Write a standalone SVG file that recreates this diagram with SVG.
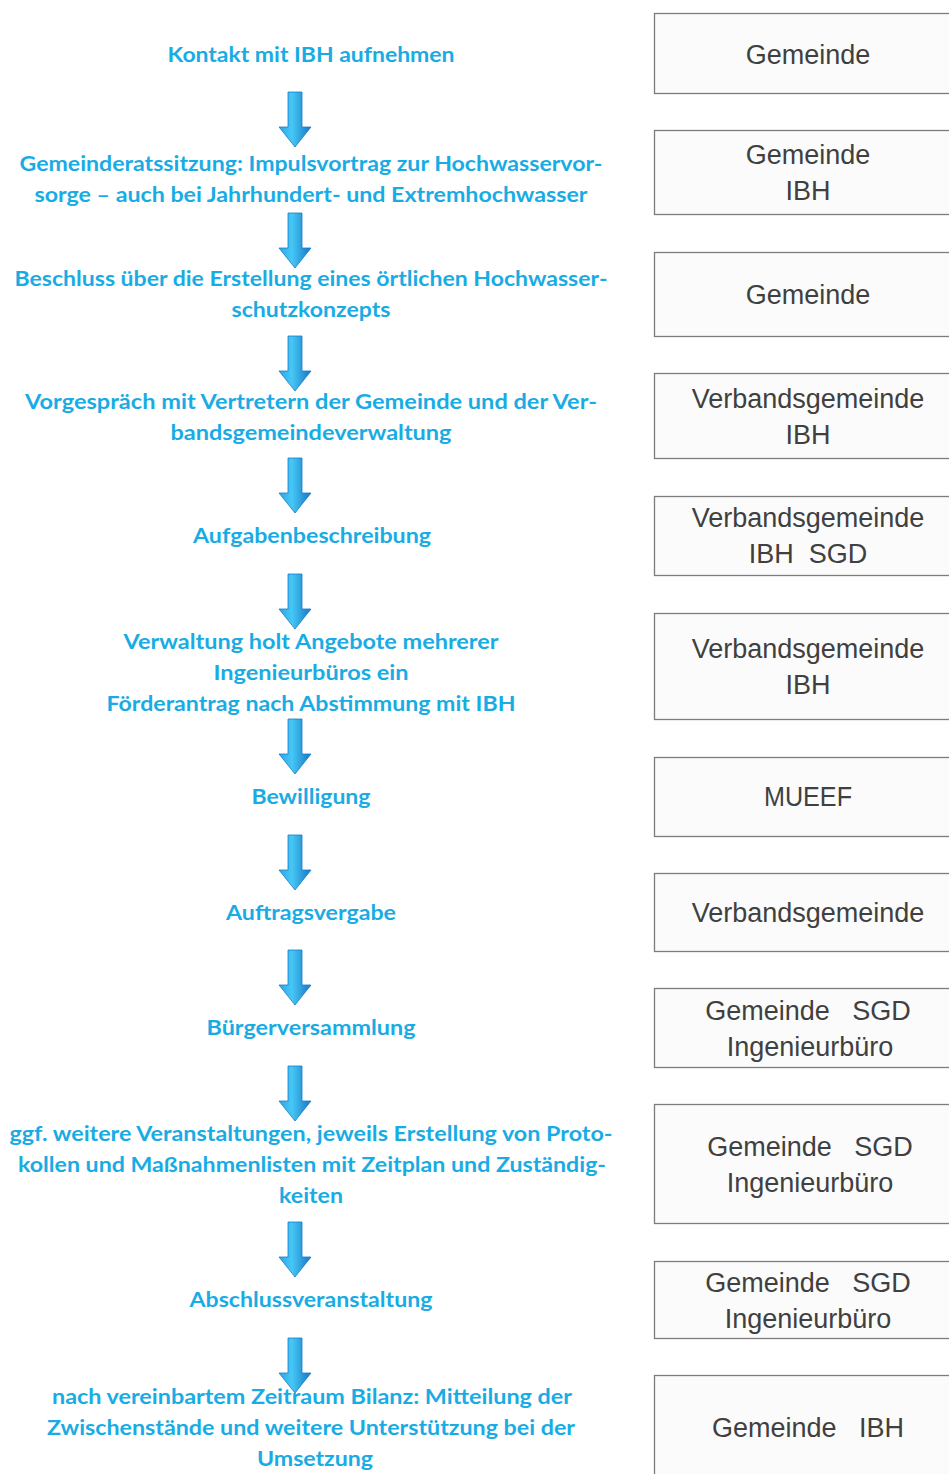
<svg xmlns="http://www.w3.org/2000/svg" width="949" height="1474" viewBox="0 0 949 1474">
<style>
.step{font-family:Lato,"Open Sans",sans-serif;font-weight:bold;font-size:21px;fill:#19ace4;text-anchor:middle}
.box{fill:#fbfbfb;stroke:#7c7c7c;stroke-width:1.3}
.who{font-family:"Liberation Sans",Arial,sans-serif;font-size:27px;fill:#404040;text-anchor:middle}
.arr{fill:url(#ag);stroke:#1a7cc9;stroke-width:0.8}
</style>
<defs>
<linearGradient id="ag" x1="0" y1="0" x2="1" y2="0">
<stop offset="0" stop-color="#2aa6e6"/>
<stop offset="0.4" stop-color="#46c8f5"/>
<stop offset="1" stop-color="#1676c6"/>
</linearGradient>
<path id="arrow" d="M-7,0 H7 V35 H16 L0,55 L-16,35 H-7 Z"/>
</defs>
<rect width="949" height="1474" fill="#ffffff"/>

<g id="connectors">
<use href="#arrow" class="arr" x="295" y="92"/>
<use href="#arrow" class="arr" x="295" y="213"/>
<use href="#arrow" class="arr" x="295" y="336"/>
<use href="#arrow" class="arr" x="295" y="458"/>
<use href="#arrow" class="arr" x="295" y="574"/>
<use href="#arrow" class="arr" x="295" y="719"/>
<use href="#arrow" class="arr" x="295" y="835"/>
<use href="#arrow" class="arr" x="295" y="950"/>
<use href="#arrow" class="arr" x="295" y="1066"/>
<use href="#arrow" class="arr" x="295" y="1222"/>
<use href="#arrow" class="arr" x="295" y="1338"/>
</g>

<g id="step1"><text class="step" x="311" y="62" textLength="287" lengthAdjust="spacingAndGlyphs">Kontakt mit IBH aufnehmen</text></g>
<g id="step2">
<text class="step" x="311" y="171" textLength="583" lengthAdjust="spacingAndGlyphs">Gemeinderatssitzung: Impulsvortrag zur Hochwasservor-</text>
<text class="step" x="311" y="202" textLength="553" lengthAdjust="spacingAndGlyphs">sorge – auch bei Jahrhundert- und Extremhochwasser</text>
</g>
<g id="step3">
<text class="step" x="311" y="286" textLength="593" lengthAdjust="spacingAndGlyphs">Beschluss über die Erstellung eines örtlichen Hochwasser-</text>
<text class="step" x="311" y="317" textLength="159" lengthAdjust="spacingAndGlyphs">schutzkonzepts</text>
</g>
<g id="step4">
<text class="step" x="311" y="409" textLength="572" lengthAdjust="spacingAndGlyphs">Vorgespräch mit Vertretern der Gemeinde und der Ver-</text>
<text class="step" x="311" y="440" textLength="281" lengthAdjust="spacingAndGlyphs">bandsgemeindeverwaltung</text>
</g>
<g id="step5"><text class="step" x="312" y="543" textLength="238" lengthAdjust="spacingAndGlyphs">Aufgabenbeschreibung</text></g>
<g id="step6">
<text class="step" x="311" y="649" textLength="375" lengthAdjust="spacingAndGlyphs">Verwaltung holt Angebote mehrerer</text>
<text class="step" x="311" y="680" textLength="195" lengthAdjust="spacingAndGlyphs">Ingenieurbüros ein</text>
<text class="step" x="311" y="711" textLength="409" lengthAdjust="spacingAndGlyphs">Förderantrag nach Abstimmung mit IBH</text>
</g>
<g id="step7"><text class="step" x="311" y="804" textLength="119" lengthAdjust="spacingAndGlyphs">Bewilligung</text></g>
<g id="step8"><text class="step" x="311" y="920" textLength="170" lengthAdjust="spacingAndGlyphs">Auftragsvergabe</text></g>
<g id="step9"><text class="step" x="311" y="1035" textLength="209" lengthAdjust="spacingAndGlyphs">Bürgerversammlung</text></g>
<g id="step10">
<text class="step" x="311" y="1141" textLength="603" lengthAdjust="spacingAndGlyphs">ggf. weitere Veranstaltungen, jeweils Erstellung von Proto-</text>
<text class="step" x="312" y="1172" textLength="588" lengthAdjust="spacingAndGlyphs">kollen und Maßnahmenlisten mit Zeitplan und Zuständig-</text>
<text class="step" x="311" y="1203" textLength="64" lengthAdjust="spacingAndGlyphs">keiten</text>
</g>
<g id="step11"><text class="step" x="311" y="1307" textLength="243" lengthAdjust="spacingAndGlyphs">Abschlussveranstaltung</text></g>
<g id="step12">
<text class="step" x="312" y="1404" textLength="520" lengthAdjust="spacingAndGlyphs">nach vereinbartem Zeitraum Bilanz: Mitteilung der</text>
<text class="step" x="311" y="1435" textLength="528" lengthAdjust="spacingAndGlyphs">Zwischenstände und weitere Unterstützung bei der</text>
<text class="step" x="315" y="1466" textLength="116" lengthAdjust="spacingAndGlyphs">Umsetzung</text>
</g>

<g id="role1"><rect class="box" x="654.5" y="13.5" width="300" height="80"/><text class="who" x="808" y="64">Gemeinde</text></g>
<g id="role2"><rect class="box" x="654.5" y="130.5" width="300" height="84"/><text class="who" x="808" y="164">Gemeinde</text><text class="who" x="808" y="200">IBH</text></g>
<g id="role3"><rect class="box" x="654.5" y="252.5" width="300" height="84"/><text class="who" x="808" y="304">Gemeinde</text></g>
<g id="role4"><rect class="box" x="654.5" y="373.5" width="300" height="85"/><text class="who" x="808" y="408">Verbandsgemeinde</text><text class="who" x="808" y="444">IBH</text></g>
<g id="role5"><rect class="box" x="654.5" y="496.5" width="300" height="79"/><text class="who" x="808" y="527">Verbandsgemeinde</text><text class="who" x="808" y="563" xml:space="preserve">IBH  SGD</text></g>
<g id="role6"><rect class="box" x="654.5" y="613.5" width="300" height="106"/><text class="who" x="808" y="658">Verbandsgemeinde</text><text class="who" x="808" y="694">IBH</text></g>
<g id="role7"><rect class="box" x="654.5" y="757.5" width="300" height="79"/><text class="who" x="808" y="806" textLength="88" lengthAdjust="spacingAndGlyphs">MUEEF</text></g>
<g id="role8"><rect class="box" x="654.5" y="873.5" width="300" height="78"/><text class="who" x="808" y="922">Verbandsgemeinde</text></g>
<g id="role9"><rect class="box" x="654.5" y="988.5" width="300" height="79"/><text class="who" x="808" y="1020" xml:space="preserve">Gemeinde   SGD</text><text class="who" x="810" y="1056">Ingenieurbüro</text></g>
<g id="role10"><rect class="box" x="654.5" y="1104.5" width="300" height="119"/><text class="who" x="810" y="1156" xml:space="preserve">Gemeinde   SGD</text><text class="who" x="810" y="1192">Ingenieurbüro</text></g>
<g id="role11"><rect class="box" x="654.5" y="1261.5" width="300" height="77"/><text class="who" x="808" y="1292" xml:space="preserve">Gemeinde   SGD</text><text class="who" x="808" y="1328">Ingenieurbüro</text></g>
<g id="role12"><rect class="box" x="654.5" y="1375.5" width="300" height="110"/><text class="who" x="808" y="1437" xml:space="preserve">Gemeinde   IBH</text></g>
</svg>
